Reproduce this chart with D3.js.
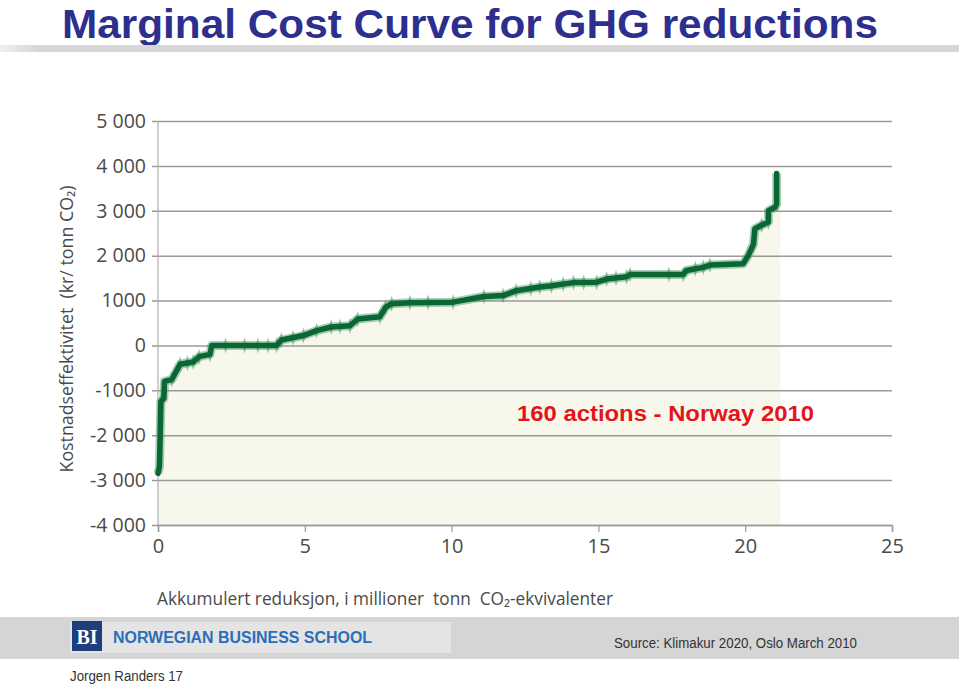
<!DOCTYPE html>
<html>
<head>
<meta charset="utf-8">
<script src="https://cdn.jsdelivr.net/npm/d3@7"></script>
<style>
  html, body { margin: 0; padding: 0; background: #fff; }
  svg { display: block; }
</style>
</head>
<body>
<svg id="chart" width="959" height="686"></svg>
<script>
// ---- Data ----
const reductionMt = [0.0, 0.05, 0.1, 0.2, 0.22, 0.47, 0.75, 1.2, 1.4, 1.77, 1.83, 4.04, 4.2, 4.95, 5.4, 5.9, 6.54, 6.8, 7.56, 7.75, 7.96, 8.58, 10.05, 11.1, 11.75, 12.2, 13.0, 13.4, 14.15, 14.94, 15.28, 15.96, 16.08, 17.89, 18.0, 18.57, 18.8, 19.93, 20.1, 20.28, 20.33, 20.56, 20.79, 20.79, 21.02, 21.07, 21.07];
const costKrPerTonne = [-2850, -2700, -1250, -1180, -800, -760, -420, -370, -250, -200, 0, 0, 120, 220, 330, 410, 440, 590, 640, 850, 930, 950, 965, 1090, 1110, 1220, 1300, 1330, 1400, 1410, 1480, 1530, 1580, 1580, 1670, 1740, 1790, 1820, 2000, 2250, 2600, 2680, 2750, 3000, 3080, 3150, 3830];
const markerX = [0.05, 0.1, 0.47, 0.75, 1.0, 1.2, 1.4, 1.77, 2.3, 2.95, 3.4, 3.75, 4.04, 4.2, 4.6, 4.95, 5.4, 5.9, 6.2, 6.54, 6.8, 7.56, 7.75, 7.96, 8.58, 9.2, 10.05, 11.1, 11.75, 12.2, 12.7, 13.0, 13.4, 13.8, 14.15, 14.5, 14.94, 15.28, 15.6, 15.96, 16.08, 17.4, 17.89, 18.3, 18.57, 18.8, 20.28, 20.56, 20.79, 21.07];
const fillEndMt = 21.2;
const xTicks = [0, 5, 10, 15, 20, 25];
const yTicks = [5000, 4000, 3000, 2000, 1000, 0, -1000, -2000, -3000, -4000];
const yTickLabels = ["5 000", "4 000", "3 000", "2 000", "1000", "0", "-1000", "-2 000", "-3 000", "-4 000"];

const title = "Marginal Cost Curve for GHG reductions";
const yTitle = "Kostnadseffektivitet\u00a0\u00a0(kr/ tonn CO\u2082)";
const xTitle = "Akkumulert reduksjon, i millioner\u00a0\u00a0tonn\u00a0\u00a0CO\u2082-ekvivalenter";
const annotation = "160 actions - Norway 2010";
const schoolName = "NORWEGIAN BUSINESS SCHOOL";
const sourceText = "Source: Klimakur 2020, Oslo March 2010";
const footerText = "Jorgen Randers 17";

// ---- Setup ----
const svg = d3.select("#chart");
const W = 959, H = 686;
const pL = 158, pR = 892, pT = 121, pB = 525;
const x = d3.scaleLinear().domain([0, 25]).range([pL, pR]);
const y = d3.scaleLinear().domain([-4000, 5000]).range([pB, pT]);
const pts = reductionMt.map((d, i) => [d, costKrPerTonne[i]]);

// Title
svg.append("text")
  .attr("x", 62).attr("y", 38)
  .attr("textLength", 816).attr("lengthAdjust", "spacingAndGlyphs")
  .style("font-family", "'Liberation Sans Narrow','Arial Narrow','Liberation Sans',Arial,sans-serif")
  .style("font-weight", "bold").style("font-size", "41px")
  .style("fill", "#2d2f8e")
  .text(title);

// Title underline band
const defs = svg.append("defs");
const bandGrad = defs.append("linearGradient").attr("id", "bandGrad");
bandGrad.append("stop").attr("offset", "0%").attr("stop-color", "#f0f0f0");
bandGrad.append("stop").attr("offset", "4%").attr("stop-color", "#d6d6d6");
bandGrad.append("stop").attr("offset", "100%").attr("stop-color", "#d6d6d6");
svg.append("rect").attr("x", 0).attr("y", 45).attr("width", W).attr("height", 7).attr("fill", "url(#bandGrad)");

// Fill area under curve
const fillPts = pts.concat([[fillEndMt, costKrPerTonne[costKrPerTonne.length - 1]]]);
svg.append("path")
  .datum(fillPts)
  .attr("fill", "#f7f8eb")
  .attr("d", d3.area().x(d => x(d[0])).y0(y(-4000)).y1(d => y(d[1])));

// Y axis with grid lines
const yAxis = svg.append("g")
  .attr("transform", `translate(${pL},0)`)
  .call(d3.axisLeft(y).tickValues(yTicks).tickSize(-(pR - pL)).tickPadding(12)
    .tickFormat((d, i) => yTickLabels[i]));
yAxis.select(".domain").remove();
yAxis.selectAll(".tick line").attr("x1", -6).attr("stroke", "#9a9a9a").attr("stroke-width", 1.5);
yAxis.selectAll(".tick text")
  .style("font-family", "'Open Sans',sans-serif").style("font-size", "19.5px").style("fill", "#4a4a4a");

// left axis line
svg.append("line").attr("x1", pL).attr("x2", pL).attr("y1", pT).attr("y2", pB)
  .attr("stroke", "#b0b0b0").attr("stroke-width", 1.2);

// X axis
const xAxis = svg.append("g")
  .attr("transform", `translate(0,${pB})`)
  .call(d3.axisBottom(x).tickValues(xTicks).tickSize(7).tickPadding(7));
xAxis.select(".domain").attr("stroke", "#9a9a9a").attr("stroke-width", 1.5);
xAxis.selectAll(".tick line").attr("stroke", "#9a9a9a").attr("stroke-width", 1.2);
xAxis.selectAll(".tick text")
  .style("font-family", "'Open Sans',sans-serif").style("font-size", "20px").style("fill", "#4a4a4a");

// Line
const line = d3.line().x(d => x(d[0])).y(d => y(d[1]));
svg.append("path").datum(pts)
  .attr("fill", "none").attr("stroke", "#3f9a60").attr("stroke-opacity", 0.45)
  .attr("stroke-width", 9).attr("stroke-linejoin", "round").attr("d", line);

// Markers (fuzzy points)
const interp = xv => {
  for (let i = 1; i < pts.length; i++) {
    if (xv <= pts[i][0]) {
      const [x0, y0] = pts[i - 1], [x1, y1] = pts[i];
      if (x1 === x0) return y1;
      return y0 + (y1 - y0) * (xv - x0) / (x1 - x0);
    }
  }
  return pts[pts.length - 1][1];
};
svg.append("g").selectAll("path").data(markerX).join("path")
  .attr("transform", d => `translate(${x(d)},${y(interp(d))})`)
  .attr("d", "M0,-8 L2.5,0 L0,8 L-2.5,0 Z")
  .attr("fill", "#4d9e68").attr("fill-opacity", 0.6);

svg.append("path").datum(pts)
  .attr("fill", "none").attr("stroke", "#0b6635")
  .attr("stroke-width", 5.5).attr("stroke-linejoin", "round").attr("stroke-linecap", "round").attr("d", line);

// Axis titles
svg.append("text")
  .attr("transform", "translate(73,329) rotate(-90)")
  .attr("text-anchor", "middle")
  .attr("textLength", 287).attr("lengthAdjust", "spacingAndGlyphs")
  .style("font-family", "'Open Sans','DejaVu Sans',sans-serif").style("font-size", "18px").style("fill", "#4a4a4a")
  .text(yTitle);

svg.append("text")
  .attr("x", 157).attr("y", 605)
  .attr("textLength", 456).attr("lengthAdjust", "spacingAndGlyphs")
  .style("font-family", "'Open Sans','DejaVu Sans',sans-serif").style("font-size", "18px").style("fill", "#4a4a4a")
  .text(xTitle);

// Annotation
svg.append("text")
  .attr("x", 517).attr("y", 421)
  .attr("textLength", 297).attr("lengthAdjust", "spacingAndGlyphs")
  .style("font-family", "'Liberation Sans',Arial,sans-serif").style("font-weight", "bold").style("font-size", "22px")
  .style("fill", "#e3151b")
  .text(annotation);

// Footer band
svg.append("rect").attr("x", 0).attr("y", 617).attr("width", W).attr("height", 42).attr("fill", "#d5d5d5");
svg.append("rect").attr("x", 70).attr("y", 622).attr("width", 381).attr("height", 31).attr("fill", "#e4e4e4");
svg.append("rect").attr("x", 72).attr("y", 621).attr("width", 30).attr("height", 30).attr("fill", "#1f3f7c");
svg.append("text").attr("x", 87).attr("y", 644).attr("text-anchor", "middle")
  .style("font-family", "'Liberation Serif',serif").style("font-weight", "bold").style("font-size", "20px")
  .style("fill", "#fff").text("BI");
svg.append("text").attr("x", 113).attr("y", 643)
  .attr("textLength", 259).attr("lengthAdjust", "spacingAndGlyphs")
  .style("font-family", "'Liberation Sans',Arial,sans-serif").style("font-weight", "bold").style("font-size", "16px")
  .style("fill", "#2a6fba").text(schoolName);
svg.append("text").attr("x", 614).attr("y", 648)
  .attr("textLength", 243).attr("lengthAdjust", "spacingAndGlyphs")
  .style("font-family", "'Liberation Sans',Arial,sans-serif").style("font-size", "14px")
  .style("fill", "#333").text(sourceText);
svg.append("text").attr("x", 70).attr("y", 681)
  .attr("textLength", 113).attr("lengthAdjust", "spacingAndGlyphs")
  .style("font-family", "'Liberation Sans',Arial,sans-serif").style("font-size", "14px")
  .style("fill", "#333").text(footerText);
</script>
</body>
</html>
